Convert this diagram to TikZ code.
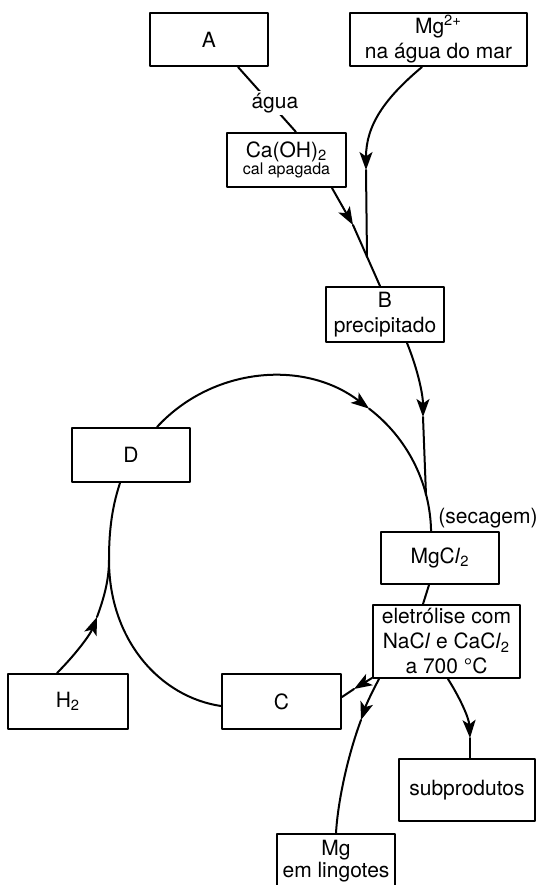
\documentclass[tikz,border=0pt]{standalone}
\usepackage{fontspec}
\setmainfont{TeX Gyre Heros}
\usetikzlibrary{arrows.meta,calc}

\begin{document}
\begin{tikzpicture}[line cap=round,line join=round,>={Stealth[length=9pt,width=6.5pt,inset=2.2pt]},
    x=0.5pt,y=-0.5pt,line width=1pt,
    box/.style={draw,rectangle,inner sep=0pt,align=center,font=\fontsize{10.5}{12.5}\selectfont},
    txt/.style={inner sep=1pt,font=\fontsize{10.5}{12.5}\selectfont}]
      \useasboundingbox (0,0) rectangle (539,885);

      % Boxes (centres in px, y grows downwards)
      \node[box,minimum width=59pt,minimum height=26.5pt] (A) at (209,39.5) {A};
      \node[box,minimum width=88.5pt,minimum height=26.5pt] (mar) at (438.5,39.5) {Mg\textsuperscript{2+}\\na água do mar};
      \node[box,minimum width=59.5pt,minimum height=27pt] (caoh) at (286.5,160) {Ca(OH)\textsubscript{2}\\[-4pt]{\fontsize{8}{9}\selectfont cal apagada}};
      \node[box,minimum width=59pt,minimum height=27.5pt] (B) at (385,314.5) {B\\precipitado};
      \node[box,minimum width=59pt,minimum height=27pt] (D) at (131,455) {D};
      \node[box,minimum width=59pt,minimum height=26pt] (mgcl) at (440,558) {MgC\textit{l}\textsubscript{2}};
      \node[box,minimum width=73.5pt,minimum height=36.5pt] (ele) at (446.5,641.5) {eletrólise com\\NaC\textit{l} e CaC\textit{l}\textsubscript{2}\\a 700 °C};
      \node[box,minimum width=59.5pt,minimum height=27.5pt] (C) at (281.5,701.5) {C};
      \node[box,minimum width=60pt,minimum height=27.5pt] (H2) at (68,701.5) {H\textsubscript{2}};
      \node[box,minimum width=68pt,minimum height=31pt] (sub) at (467,790) {subprodutos};
      \node[box,minimum width=59pt,minimum height=27pt] (Mg) at (336,861) {Mg\\[-1.5pt]em lingotes};

      \node[txt] (dry) at (488,518) {(secagem)};

      % Merge points on the lines
      \coordinate (m1) at (367,257);
      \coordinate (m2) at (426,495);
      \coordinate (m3) at (109,560);

      % Slaked lime
      \draw ($(A.south)+(29,0)$) -- node[txt,fill=white,pos=0.55,xshift=2.5pt] {água} ($(caoh.north)+(9.5,0)$);

      % Sea water and lime down to the precipitate
      \draw[->] ($(mar.south)+(-16.5,0)$) .. controls (385,98) and (366,125) .. (366,170) coordinate (t1);
      \draw (t1) -- (m1);
      \draw[->] ($(caoh.south)+(45.5,0)$) -- (353,225) coordinate (t2);
      \draw (t2) -- ($(B.north)+(-5,0)$);

      % Precipitate to drying
      \draw[->] ($(B.south)+(22,0)$) .. controls (418,370) and (423,395) .. (423,417) coordinate (t3);
      \draw (t3) -- (m2);

      % Loop from D back to the chloride
      \draw[->] ($(D.north)+(26,0)$) arc[start angle=137.3,end angle=52.6,radius=79pt] coordinate (t4);
      \draw (t4) arc[start angle=52.6,end angle=1,radius=79pt];

      % Chloride to the cell
      \draw ($(mgcl.south)+(-11,0)$) -- ($(ele.north)+(-23.5,0)$);

      % Cell outputs
      \draw[->] ($(ele.south west)+(0,-1)$) -- (354,689) coordinate (t5);
      \draw (t5) -- ($(C.east)+(0,-4.5)$);
      \draw[->] ($(ele.south)+(-67.5,0)$) .. controls (372,692) and (366,705) .. (361,720) coordinate (t6);
      \draw (t6) .. controls (348,755) and (338,800) .. (Mg.north);
      \draw[->] ($(ele.south)+(1.5,0)$) .. controls (460,698) and (469,718) .. (470,738) coordinate (t7);
      \draw (t7) -- ($(sub.north)+(3,0)$);

      % C round to D
      \draw ($(D.south)+(-11,0)$) .. controls (111,510) and (109,535) .. (m3)
            .. controls (109,640) and (160,697) .. ($(C.west)+(0,4.5)$);

      % Hydrogen into the loop
      \draw[->] ($(H2.north)+(-11,0)$) .. controls (75,655) and (90,635) .. (97,617) coordinate (t8);
      \draw (t8) .. controls (104,598) and (109,580) .. (m3);
    \end{tikzpicture}
\end{document}
